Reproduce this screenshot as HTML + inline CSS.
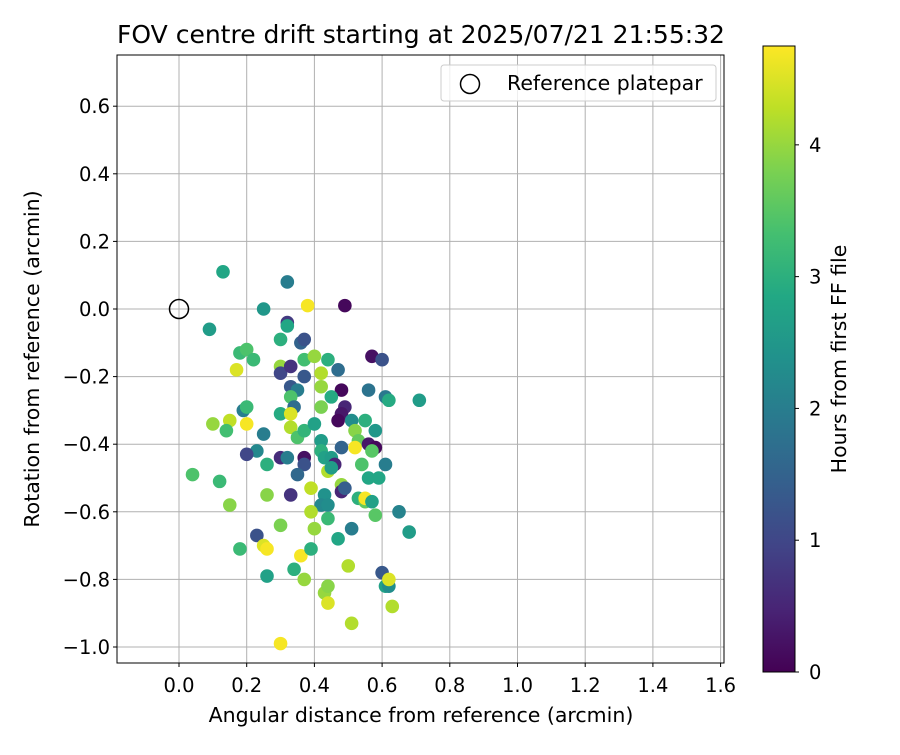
<!DOCTYPE html>
<html><head><meta charset="utf-8"><style>
body{margin:0;background:#fff;}
svg text{font-family:"DejaVu Sans","Liberation Sans",sans-serif;fill:#000;}
</style></head><body>
<svg id="chart" width="900" height="750" xmlns="http://www.w3.org/2000/svg">
<defs><linearGradient id="vir" x1="0" y1="1" x2="0" y2="0">
<stop offset="0" stop-color="#440154"/><stop offset="0.1" stop-color="#482475"/><stop offset="0.2" stop-color="#414487"/><stop offset="0.3" stop-color="#355f8d"/><stop offset="0.4" stop-color="#2a788e"/><stop offset="0.5" stop-color="#21918c"/><stop offset="0.6" stop-color="#22a884"/><stop offset="0.7" stop-color="#44bf70"/><stop offset="0.8" stop-color="#7ad151"/><stop offset="0.9" stop-color="#bddf26"/><stop offset="1" stop-color="#fde725"/>
</linearGradient></defs>
<text x="421" y="43" font-size="25" text-anchor="middle">FOV centre drift starting at 2025/07/21 21:55:32</text>
<g id="grid"></g>
<g id="points"></g>
<rect x="117" y="55" width="607" height="608" fill="none" stroke="#000" stroke-width="1"/>
<g id="ticks"></g>
<text x="421" y="722" font-size="20.5" text-anchor="middle">Angular distance from reference (arcmin)</text>
<text transform="translate(39,359) rotate(-90)" font-size="20.5" text-anchor="middle">Rotation from reference (arcmin)</text>
<g>
<rect x="441" y="65" width="275" height="36" rx="3" fill="#fff" fill-opacity="0.8" stroke="#ccc"/>
<circle cx="470" cy="84" r="9.5" fill="none" stroke="#000" stroke-width="1.5"/>
<text x="507" y="90" font-size="20.5">Reference platepar</text>
</g>
<rect x="763" y="46" width="32" height="626" fill="url(#vir)" stroke="#000" stroke-width="1"/>
<g id="cbticks"></g>
<text transform="translate(846,359) rotate(-90)" font-size="20.5" text-anchor="middle">Hours from first FF file</text>
</svg>
<script>
const xTicks=[0,0.2,0.4,0.6,0.8,1.0,1.2,1.4,1.6];
const yTicks=[0.6,0.4,0.2,0,-0.2,-0.4,-0.6,-0.8,-1.0];
const cbTicks=[0,1,2,3,4];
const xs=[0.13,0.32,0.38,0.49,0.25,0.09,0.32,0.32,0.30,0.36,0.37,0.18,0.20,0.22,0.17,0.30,0.30,0.33,0.37,0.40,0.44,0.47,0.57,0.60,0.33,0.37,0.42,0.42,0.48,0.56,0.61,0.62,0.71,0.35,0.33,0.34,0.19,0.20,0.42,0.45,0.49,0.48,0.51,0.55,0.10,0.15,0.14,0.20,0.30,0.33,0.33,0.35,0.37,0.40,0.47,0.52,0.53,0.56,0.58,0.57,0.58,0.25,0.23,0.20,0.30,0.32,0.26,0.37,0.37,0.42,0.42,0.43,0.45,0.46,0.48,0.52,0.54,0.56,0.59,0.61,0.04,0.12,0.35,0.44,0.45,0.39,0.43,0.42,0.44,0.48,0.48,0.49,0.53,0.55,0.55,0.57,0.58,0.65,0.15,0.26,0.33,0.39,0.44,0.40,0.30,0.51,0.68,0.23,0.25,0.26,0.18,0.36,0.34,0.39,0.47,0.50,0.26,0.37,0.43,0.44,0.44,0.60,0.61,0.62,0.62,0.63,0.51,0.30];
const ys=[0.11,0.08,0.01,0.01,0.0,-0.06,-0.04,-0.05,-0.09,-0.10,-0.09,-0.13,-0.12,-0.15,-0.18,-0.17,-0.19,-0.17,-0.15,-0.14,-0.15,-0.18,-0.14,-0.15,-0.23,-0.20,-0.19,-0.23,-0.24,-0.24,-0.26,-0.27,-0.27,-0.24,-0.26,-0.29,-0.30,-0.29,-0.29,-0.26,-0.29,-0.31,-0.33,-0.33,-0.34,-0.33,-0.36,-0.34,-0.31,-0.31,-0.35,-0.38,-0.36,-0.34,-0.33,-0.36,-0.39,-0.40,-0.41,-0.42,-0.36,-0.37,-0.42,-0.43,-0.44,-0.44,-0.46,-0.44,-0.46,-0.39,-0.42,-0.44,-0.44,-0.46,-0.41,-0.41,-0.46,-0.50,-0.50,-0.46,-0.49,-0.51,-0.49,-0.48,-0.47,-0.53,-0.55,-0.58,-0.58,-0.52,-0.54,-0.53,-0.56,-0.57,-0.56,-0.57,-0.61,-0.60,-0.58,-0.55,-0.55,-0.60,-0.62,-0.65,-0.64,-0.65,-0.66,-0.67,-0.70,-0.71,-0.71,-0.73,-0.77,-0.71,-0.68,-0.76,-0.79,-0.80,-0.84,-0.82,-0.87,-0.78,-0.82,-0.82,-0.80,-0.88,-0.93,-0.99];
const hours=[2.8,2.0,4.7,0.1,2.5,2.6,0.8,2.8,3.0,1.5,1.2,3.2,3.4,3.2,4.5,4.0,1.0,0.7,3.3,4.0,3.0,1.7,0.2,1.2,1.3,1.3,4.2,4.0,0.1,1.8,1.9,2.9,2.6,2.0,3.4,1.7,2.0,3.2,3.8,2.9,0.5,0.3,2.3,3.0,4.0,4.3,3.3,4.7,2.9,4.5,4.2,3.4,3.1,2.7,0.1,3.9,3.6,0.3,0.1,3.5,2.5,2.0,2.2,1.0,0.6,2.0,3.0,0.2,1.2,2.6,3.0,2.7,2.6,0.5,1.5,4.7,3.4,2.8,2.8,2.0,3.4,3.2,1.6,4.2,2.6,4.3,2.4,2.2,2.3,4.0,0.5,1.4,3.0,3.6,4.7,2.7,3.5,2.1,3.9,3.9,0.7,4.2,3.2,4.0,3.8,2.0,2.6,1.2,4.5,4.7,3.2,4.7,3.0,3.0,2.8,4.2,2.7,4.0,4.0,3.9,4.5,1.3,2.7,2.3,4.5,4.2,4.2,4.7];
const NS="http://www.w3.org/2000/svg";
const X=v=>179+v*338.5, Y=v=>309-v*338, HMAX=4.75, CB=h=>672-h/HMAX*626;
const stops=[[68,1,84],[72,36,117],[65,68,135],[53,95,141],[42,120,142],[33,145,140],[34,168,132],[68,191,112],[122,209,81],[189,223,38],[253,231,37]];
function vir(t){t=Math.max(0,Math.min(1,t))*10;const i=Math.min(9,Math.floor(t)),f=t-i,a=stops[i],b=stops[i+1];return `rgb(${a.map((c,k)=>Math.round(c+(b[k]-c)*f)).join(',')})`;}
function mk(tag,attrs,parent){const e=document.createElementNS(NS,tag);for(const k in attrs)e.setAttribute(k,attrs[k]);parent.appendChild(e);return e;}
const grid=document.getElementById('grid'),ticks=document.getElementById('ticks'),pts=document.getElementById('points'),cbt=document.getElementById('cbticks');
xTicks.forEach(v=>{
 const g=mk('line',{x1:X(v),x2:X(v),y1:55,y2:663,stroke:'#b0b0b0','stroke-width':1},grid);
 
 
 mk('line',{x1:X(v),x2:X(v),y1:663,y2:667,stroke:'#000'},ticks);
 const t=mk('text',{x:X(v),y:692,'font-size':19.5,'text-anchor':'middle'},ticks);
 
 
 t.textContent=v.toFixed(1);
});
yTicks.forEach(v=>{
 const g=mk('line',{x1:117,x2:724,y1:Y(v),y2:Y(v),stroke:'#b0b0b0','stroke-width':1},grid);
 
 
 mk('line',{x1:113,x2:117,y1:Y(v),y2:Y(v),stroke:'#000'},ticks);
 const t=mk('text',{x:110,y:Y(v)+7,'font-size':19.5,'text-anchor':'end'},ticks);
 
 
 t.textContent=(v<0?'\u2212':'')+Math.abs(v).toFixed(1);
});
xs.forEach((x,i)=>{
 const c=mk('circle',{cx:X(x),cy:Y(ys[i]),r:6.8,fill:vir(hours[i]/HMAX)},pts);
 
 
});
const ref=mk('circle',{cx:X(0),cy:Y(0),r:9.5,fill:'none',stroke:'#000','stroke-width':1.5},pts);


cbTicks.forEach(v=>{
 mk('line',{x1:795,x2:799,y1:CB(v),y2:CB(v),stroke:'#000'},cbt);
 const t=mk('text',{x:809,y:CB(v)+7,'font-size':19.5},cbt);
 
 
 t.textContent=v;
});
</script>
</body></html>
